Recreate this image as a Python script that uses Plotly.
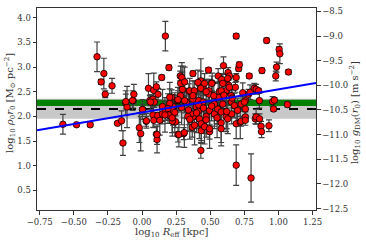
import plotly.graph_objects as go

# log10 R_eff [kpc], log10 rho0 r0 [Msun pc^-2], symmetric error
x_vals = [-0.58, -0.48, -0.38, -0.33, -0.30, -0.28, -0.27, -0.22, -0.18, -0.15,
          -0.14, -0.12, -0.11, -0.06, -0.065, -0.02, -0.01, 0.005, 0.03, 0.047,
          0.057, 0.08, 0.086, 0.09, 0.08, 0.086, 0.105, 0.105, 0.11, 0.115,
          0.117, 0.144, 0.149, 0.171, 0.173, 0.197, 0.197, 0.217, 0.232, 0.246,
          0.26, 0.263, 0.28, 0.295, 0.30, 0.305, 0.324, 0.343, 0.349, 0.368,
          0.373, 0.373, 0.373, 0.383, 0.397, 0.416, 0.431, 0.431, 0.434, 0.446,
          0.446, 0.487, 0.49, 0.49, 0.495, 0.495, 0.514, 0.531, 0.556, 0.558,
          0.558, 0.567, 0.584, 0.592, 0.597, 0.616, 0.616, 0.631, 0.636, 0.64,
          0.655, 0.684, 0.69, 0.69, 0.69, 0.69, 0.708, 0.713, 0.72, 0.726,
          0.726, 0.738, 0.757, 0.757, 0.757, 0.757, 0.781, 0.786, 0.792, 0.799,
          0.823, 0.83, 0.836, 0.836, 0.854, 0.86, 0.861, 0.872, 0.876, 0.879,
          0.913, 0.93, 0.957, 0.964, 0.97, 0.98, 0.986, 1.005, 1.01, 1.066,
          1.073,
          -0.119, -0.07, 0.003, 0.032, 0.13, 0.168, 0.222, 0.227, 0.263, 0.312,
          0.36, 0.385, 0.336, 0.062, 0.11, 0.27, 0.31, 0.416, 0.412, 0.42,
          0.434, 0.458, 0.495, 0.47, 0.53, 0.555, 0.58, 0.58, 0.58, 0.628,
          0.657, 0.677, 0.75, 0.53, 0.292, 0.283, 0.312, 0.41, 0.43, 0.458,
          0.511, 0.592, 0.628, 0.64, 0.58, 0.526, 0.43, 0.373, 0.283, 0.47,
          0.653, 0.203, 0.263, 0.203, 0.15, 0.19, 0.24, 0.29, 0.34, 0.40,
          0.45, 0.51, 0.55, 0.62, 0.66, 0.70, 0.35, 0.22, 0.47, 0.60]
y_vals = [1.84, 1.83, 1.83, 3.21, 2.70, 2.87, 2.45, 2.62, 1.86, 1.91,
          1.46, 2.27, 2.19, 2.45, 2.32, 1.77, 1.65, 2.14, 1.90, 2.57,
          2.32, 2.35, 2.53, 2.29, 2.03, 1.92, 2.60, 1.64, 1.53, 2.02,
          2.45, 2.79, 2.05, 3.63, 2.12, 2.99, 2.03, 2.39, 2.19, 1.89,
          2.32, 1.63, 2.82, 2.55, 2.72, 1.65, 2.29, 2.51, 2.52, 1.78,
          2.87, 2.35, 1.99, 2.52, 2.19, 2.32, 2.72, 1.31, 1.71, 2.57,
          2.29, 2.94, 2.52, 2.45, 2.12, 1.69, 2.68, 2.05, 2.15, 2.82,
          2.39, 2.51, 2.75, 2.25, 3.03, 2.52, 1.99, 2.89, 2.63, 2.82,
          2.29, 2.59, 3.63, 2.79, 1.85, 1.01, 2.97, 3.05, 1.88, 2.25,
          1.90, 2.48, 2.32, 2.15, 1.99, 1.92, 2.45, 2.82, 2.49, 0.75,
          2.57, 1.95, 2.55, 1.99, 2.52, 2.32, 1.95, 1.80, 1.69, 2.93,
          3.54, 1.81, 2.30, 2.15, 2.33, 2.82, 3.00, 3.36, 3.27, 2.24,
          2.90,
          2.30, 2.32, 2.14, 1.91, 1.92, 2.03, 1.90, 2.12, 2.32, 2.32,
          2.05, 1.82, 2.00, 2.29, 1.63, 1.63, 1.67, 2.23, 2.10, 1.95,
          1.85, 1.79, 1.75, 2.00, 2.05, 2.15, 2.09, 1.87, 1.75, 1.95,
          2.05, 2.22, 2.29, 2.25, 2.79, 2.67, 2.70, 2.69, 2.57, 2.67,
          2.67, 2.67, 2.77, 2.59, 2.52, 2.42, 2.57, 2.42, 2.42, 2.50,
          2.42, 2.39, 2.34, 2.26, 2.20, 2.16, 2.08, 2.18, 2.13, 2.07,
          2.17, 2.21, 1.97, 2.10, 2.37, 2.12, 1.94, 1.97, 1.93, 2.43]
err_vals = [0.20, 0.03, 0.04, 0.30, 0.05, 0.31, 0.07, 0.15, 0.03, 0.20,
            0.25, 0.25, 0.42, 0.20, 0.15, 0.30, 0.35, 0.10, 0.10, 0.30,
            0.10, 0.15, 0.35, 0.10, 0.25, 0.15, 0.10, 0.15, 0.27, 0.05,
            0.12, 0.05, 0.15, 0.30, 0.20, 0.05, 0.10, 0.15, 0.25, 0.12,
            0.10, 0.15, 0.10, 0.35, 0.30, 0.12, 0.20, 0.15, 0.25, 0.20,
            0.05, 0.20, 0.30, 0.20, 0.25, 0.30, 0.45, 0.16, 0.20, 0.15,
            0.20, 0.05, 0.20, 0.30, 0.30, 0.15, 0.20, 0.25, 0.30, 0.15,
            0.30, 0.20, 0.10, 0.20, 0.18, 0.20, 0.30, 0.10, 0.20, 0.05,
            0.25, 0.10, 0.05, 0.08, 0.30, 0.41, 0.05, 0.05, 0.33, 0.15,
            0.10, 0.20, 0.15, 0.20, 0.10, 0.10, 0.10, 0.05, 0.15, 0.49,
            0.10, 0.10, 0.10, 0.15, 0.05, 0.15, 0.10, 0.10, 0.12, 0.05,
            0.05, 0.12, 0.10, 0.05, 0.05, 0.10, 0.10, 0.05, 0.20, 0.05,
            0.05,
            0.15, 0.20, 0.20, 0.15, 0.30, 0.35, 0.30, 0.30, 0.20, 0.25,
            0.35, 0.40, 0.30, 0.15, 0.20, 0.25, 0.30, 0.25, 0.35, 0.40,
            0.40, 0.35, 0.40, 0.35, 0.30, 0.30, 0.35, 0.40, 0.35, 0.30,
            0.20, 0.25, 0.15, 0.25, 0.30, 0.35, 0.30, 0.25, 0.35, 0.20,
            0.15, 0.20, 0.10, 0.15, 0.20, 0.25, 0.20, 0.30, 0.15, 0.25,
            0.15, 0.30, 0.25, 0.30, 0.35, 0.30, 0.40, 0.35, 0.30, 0.40,
            0.35, 0.30, 0.40, 0.35, 0.20, 0.25, 0.40, 0.30, 0.35, 0.20]

# fit line and reference bands
fit_x = [-0.77, 1.275]
fit_intercept = 2.08
fit_slope = 0.47
fit_y = [fit_intercept + fit_slope * v for v in fit_x]
gray_band = [1.95, 2.36]
green_band = [2.21, 2.34]
dashed_level = 2.15
g_offset = -12.63
y_range = [0.1, 4.2]
x_range = [-0.77, 1.275]

x_ticks = [-0.75, -0.5, -0.25, 0.0, 0.25, 0.5, 0.75, 1.0, 1.25]
y_ticks = [0.5, 1.0, 1.5, 2.0, 2.5, 3.0, 3.5, 4.0]
y2_ticks = [-12.5, -12.0, -11.5, -11.0, -10.5, -10.0, -9.5, -9.0, -8.5]

x_title = "log<sub>10</sub> <i>R</i><sub>eff</sub> [kpc]"
y_title = "log<sub>10</sub> <i>ρ</i><sub>0</sub><i>r</i><sub>0</sub> [M<sub>⊙</sub> pc<sup>−2</sup>]"
y2_title = "log<sub>10</sub> <i>g</i><sub>DM</sub>(<i>r</i><sub>0</sub>) [m s<sup>−2</sup>]"

FONT = "DejaVu Serif"
TXT = "#333"

fig = go.Figure()
fig.add_trace(go.Scatter(
    x=x_vals, y=y_vals, mode="markers",
    marker=dict(color="#ff0000", size=6.5, line=dict(color="black", width=0.8)),
    error_y=dict(type="data", array=err_vals, visible=True, color="#404040",
                 thickness=1.2, width=3),
    showlegend=False, hoverinfo="skip"))
fig.add_trace(go.Scatter(
    x=fit_x, y=fit_y, mode="lines", line=dict(color="#0000ff", width=2),
    showlegend=False, hoverinfo="skip"))
fig.add_trace(go.Scatter(x=[None], y=[None], yaxis="y2", showlegend=False,
                         hoverinfo="skip"))

fig.add_shape(type="rect", xref="paper", yref="y", x0=0, x1=1,
              y0=gray_band[0], y1=gray_band[1], fillcolor="#c8c8c8",
              line_width=0, layer="below")
fig.add_shape(type="rect", xref="paper", yref="y", x0=0, x1=1,
              y0=green_band[0], y1=green_band[1], fillcolor="#008000",
              line_width=0, layer="below")
fig.add_shape(type="line", xref="paper", yref="y", x0=0, x1=1,
              y0=dashed_level, y1=dashed_level,
              line=dict(color="black", width=2, dash="dash"), layer="below")

axis_common = dict(showgrid=False, zeroline=False, ticks="outside", ticklen=3.5,
                   tickwidth=0.8, tickcolor=TXT, linecolor=TXT, linewidth=1,
                   tickfont=dict(family=FONT, size=8.5, color=TXT))

title_font = dict(family=FONT, size=10, color=TXT)
fig.add_annotation(text=x_title, xref="paper", yref="paper", x=0.484, y=-0.11,
                   xanchor="center", yanchor="middle", showarrow=False,
                   font=title_font)
fig.add_annotation(text=y_title, xref="paper", yref="paper", x=-0.097, y=0.53,
                   xanchor="center", yanchor="middle", showarrow=False,
                   textangle=-90, font=title_font)
fig.add_annotation(text=y2_title, xref="paper", yref="paper", x=1.14, y=0.48,
                   xanchor="center", yanchor="middle", showarrow=False,
                   textangle=-90, font=title_font)

fig.update_layout(
    width=366, height=243,
    margin=dict(l=37, r=50, t=6, b=33),
    plot_bgcolor="white", paper_bgcolor="white",
    font=dict(family=FONT, color=TXT),
    xaxis=dict(range=x_range, tickvals=x_ticks, tickformat=".2f", showline=True,
               mirror=True, **axis_common),
    yaxis=dict(range=y_range, tickvals=y_ticks, tickformat=".1f", showline=True,
               **axis_common),
    yaxis2=dict(range=[y_range[0] + g_offset, y_range[1] + g_offset],
                tickvals=y2_ticks, tickformat=".1f", overlaying="y", side="right",
                showline=True, anchor="x", **axis_common),
)

fig.write_html("out.html", config={"displayModeBar": False},
               post_script="document.body.style.margin='0';")
